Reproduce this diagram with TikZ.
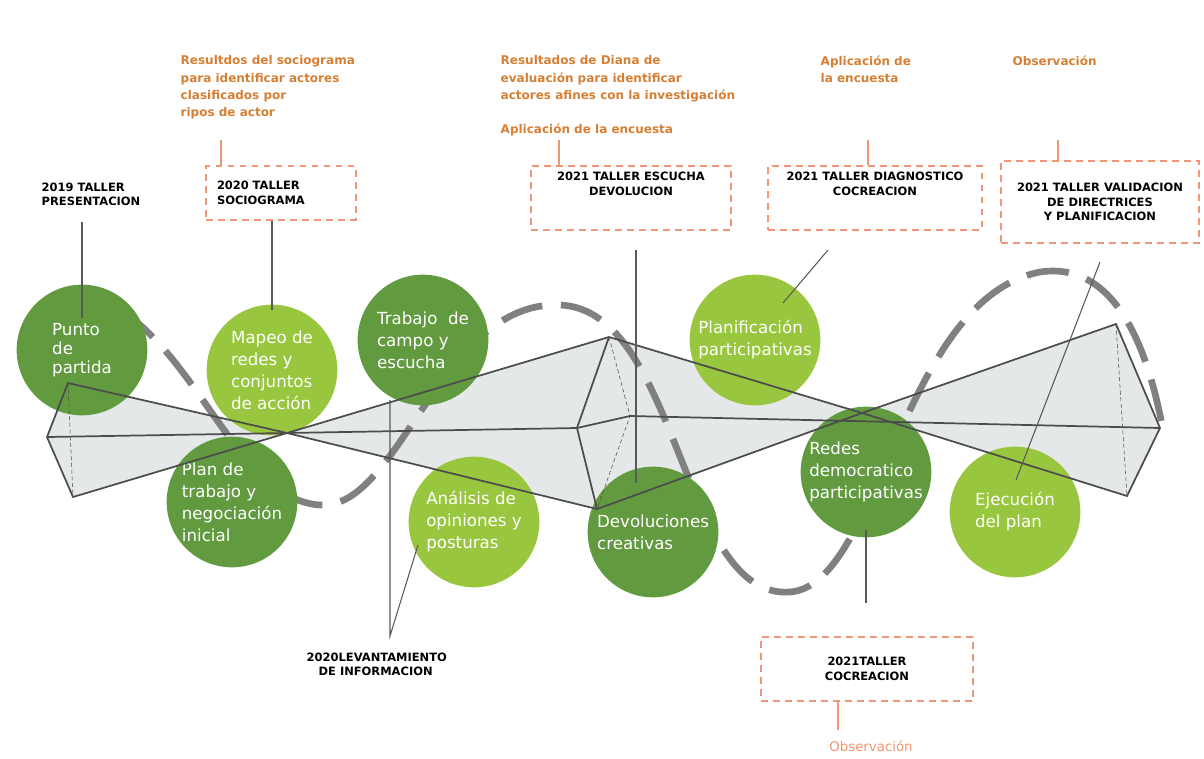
\documentclass[tikz,border=0pt]{standalone}
\usepackage{fontspec}
\setmainfont{DejaVu Sans}
\usetikzlibrary{positioning}
\definecolor{darkgr}{RGB}{98,154,64}
\definecolor{lightgr}{RGB}{152,198,62}
\definecolor{salmon}{RGB}{240,150,120}
\definecolor{orangetxt}{RGB}{214,126,50}
\definecolor{polyfill}{RGB}{228,232,233}
\tikzset{
  etapa/.style={circle,minimum size=98pt,inner sep=0pt,text=white,font=\fontsize{12.5}{16.5}\selectfont,align=left},
  dark/.style={etapa,fill=darkgr},
  light/.style={etapa,fill=lightgr},
  taller/.style={font=\bfseries\fontsize{8.6}{11}\selectfont,align=left,text=black},
  nota/.style={font=\bfseries\fontsize{9}{13}\selectfont,align=left,text=orangetxt,anchor=north west},
  caja/.style={draw=salmon,dashed,line width=1.3pt,dash pattern=on 5pt off 4pt},
  tick/.style={draw=salmon,line width=1.2pt},
  guia/.style={draw=black!65,line width=0.8pt},
  arista/.style={draw=black!70,line width=1.3pt},
}
\begin{document}
\begin{tikzpicture}[x=0.75pt,y=-0.75pt]
		\useasboundingbox (0,0) rectangle (1204,758);
		
		% Polygon points
		\coordinate (L) at (47,437);
		\coordinate (A) at (68,383);
		\coordinate (B) at (73,497);
		\coordinate (X1) at (287,433);
		\coordinate (C) at (577,428);
		\coordinate (T) at (609,337);
		\coordinate (M) at (630,416);
		\coordinate (D) at (597,509);
		\coordinate (X2) at (862,413);
		\coordinate (R) at (1116,324);
		\coordinate (E) at (1160,428);
		\coordinate (F) at (1127,496);
		
		% Area
		\fill[polyfill] (L) -- (A) -- (X1) -- (T) -- (X2) -- (R) -- (E) -- (F) -- (X2) -- (D) -- (X1) -- (B) -- cycle;
		
		% Wave
		\draw[black!50,line width=5pt,dash pattern=on 32pt off 14pt]
		  (120,310) .. controls (200,360) and (240,500) .. (320,505)
		  .. controls (400,510) and (440,300) .. (560,305)
		  .. controls (680,310) and (680,600) .. (790,592)
		  .. controls (880,585) and (900,300) .. (1040,272)
		  .. controls (1120,260) and (1150,360) .. (1163,430);
		
		% Circles
		\node[dark] (punto) at (82,350) {Punto\\[-2pt]de\\[-2pt]partida};
		\node[light] (mapeo) at (272,370) {Mapeo de\\redes y\\conjuntos\\de acción};
		\node[dark] (trabajo) at (423,340) {Trabajo\ \ de\\campo y\\escucha};
		\node[dark] (plan) at (232,502) {Plan de\\trabajo y\\negociación\\ inicial};
		\node[light] (analisis) at (474,522) {Análisis de\\opiniones y\\posturas};
		\node[dark] (devol) at (653,532) {Devoluciones\\creativas};
		\node[light] (planif) at (755,340) {Planificación\\participativas};
		\node[dark] (redes) at (866,472) {Redes\\democratico\\participativas};
		\node[light] (ejec) at (1015,512) {Ejecución\\del plan};
		
		% Edges
		\draw[arista] (L) -- (A) -- (X1) -- (D) -- (X2) -- (R) -- (E) -- (F) -- (X2) -- (T) -- (X1) -- (B) -- cycle;
		\draw[arista] (L) -- (X1) -- (C) -- (M) -- (E);
		\draw[arista] (T) -- (C) -- (D);
		\draw[black!70,densely dashed] (A) -- (B);
		\draw[black!70,densely dashed] (T) -- (M) -- (D);
		\draw[black!70,densely dashed] (R) -- (F);
		
		% Talleres
		\node[taller,anchor=north west] (t2019) at (37,178) {2019 TALLER\\PRESENTACION};
		\node[taller,caja,minimum width=112pt,minimum height=40pt,align=left,text width=96pt] (t2020) at (281,193) {2020 TALLER\\SOCIOGRAMA};
		\node[taller,caja,minimum width=150pt,minimum height=48pt,align=center] (t2021a) at (631,198) {2021 TALLER ESCUCHA\\DEVOLUCION\\[10pt]};
		\node[taller,caja,minimum width=160pt,minimum height=48pt,align=center] (t2021b) at (875,198) {2021 TALLER DIAGNOSTICO\\COCREACION\\[10pt]};
		\node[taller,caja,minimum width=148pt,minimum height=62pt,align=center] (t2021c) at (1100,202) {2021 TALLER VALIDACION\\DE DIRECTRICES\\Y PLANIFICACION};
		\node[taller,caja,minimum width=159pt,minimum height=48pt,align=center] (t2021d) at (867,669) {2021TALLER\\COCREACION};
		\node[taller,anchor=north west] (tlev) at (302,648) {2020LEVANTAMIENTO\\\ \ \ DE INFORMACION};
		
		% Notas
		\node[nota] (n1) at (176,51) {Resultdos del sociograma\\para identificar actores\\clasificados por\\ripos de actor};
		\node[nota] (n2) at (496,51) {Resultados de Diana de\\evaluación para identificar\\actores afines con la investigación};
		\node[nota] (n3) at (496,119) {Aplicación de la encuesta};
		\node[nota] (n4) at (816,51) {Aplicación de\\la encuesta};
		\node[nota] (n5) at (1008,51) {Observación};
		\node[font=\fontsize{10}{12}\selectfont,text=salmon!90!orange] (n6) at (871,746) {Observación};
		
		% Ticks
		\coordinate (k1) at (221,140);
		\coordinate (k2) at (559,140);
		\coordinate (k3) at (868,140);
		\coordinate (k4) at (1058,140);
		\coordinate (k5) at (838,730);
		\draw[tick] (k1) -- (k1 |- t2020.north);
		\draw[tick] (k2) -- (k2 |- t2021a.north);
		\draw[tick] (k3) -- (k3 |- t2021b.north);
		\draw[tick] (k4) -- (k4 |- t2021c.north);
		\draw[tick] (k5) -- (k5 |- t2021d.south);
		
		% Guides
		\coordinate (g1) at (82,222);
		\coordinate (g1e) at (82,318);
		\coordinate (g2e) at (272,310);
		\coordinate (g3) at (636,250);
		\coordinate (g3e) at (636,483);
		\coordinate (g4) at (828,250);
		\coordinate (g4e) at (783,303);
		\coordinate (g5) at (1100,262);
		\coordinate (g5e) at (1016,480);
		\coordinate (g6) at (866,530);
		\coordinate (g6e) at (866,603);
		\coordinate (g7) at (390,400);
		\coordinate (g7e) at (390,636);
		\coordinate (g8) at (418,545);
		\draw[guia] (g1) -- (g1e);
		\draw[guia] (t2020.south -| g2e) -- (g2e);
		\draw[guia] (g3) -- (g3e);
		\draw[guia] (g4) -- (g4e);
		\draw[guia] (g5) -- (g5e);
		\draw[guia] (g6) -- (g6e);
		\draw[guia] (g7) -- (g7e) -- (g8);
\end{tikzpicture}
\end{document}
